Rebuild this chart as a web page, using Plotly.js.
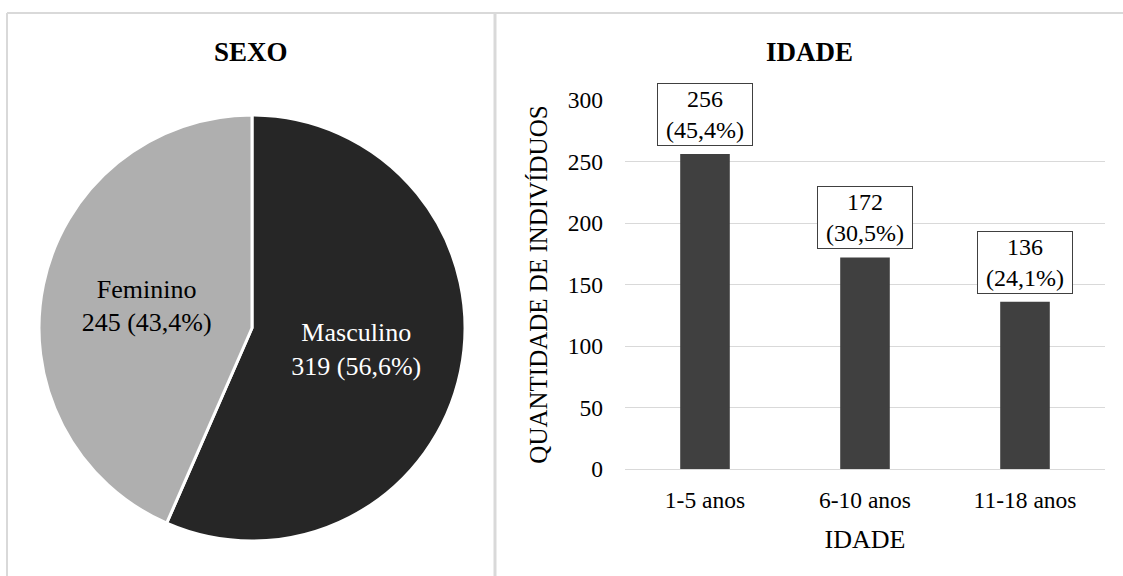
<!DOCTYPE html>
<html>
<head>
<meta charset="utf-8">
<script src="https://cdn.plot.ly/plotly-3.0.1.min.js"></script>
<style>
  html, body { margin: 0; padding: 0; background: #ffffff; }
  #chart { width: 1123px; height: 576px; }
</style>
</head>
<body>
<div id="chart"></div>
<script>
// Sex distribution (pie)
const sexLabels = ["Masculino", "Feminino"];
const sexValues = [319, 245];
const sexColors = ["#262626", "#afafaf"];
const sexTextColors = ["#ffffff", "#000000"];

// Age groups (bars)
const ageGroups = ["1-5 anos", "6-10 anos", "11-18 anos"];
const ageCounts = [256, 172, 136];

const yTicks = [0, 50, 100, 150, 200, 250, 300];

const FONT = "Liberation Serif, Times New Roman, serif";
const W = 1123, H = 576;

const ageTotal = ageCounts.reduce((a, b) => a + b, 0);
const fmtPct = v => (v / ageTotal * 100).toFixed(1).replace(".", ",") + "%";

const pieTrace = {
  type: "pie",
  labels: sexLabels,
  values: sexValues,
  sort: false,
  direction: "clockwise",
  rotation: 0,
  marker: { colors: sexColors, line: { color: "#ffffff", width: 3 } },
  textinfo: "text",
  texttemplate: "%{label}<br>%{value} (%{percent:.1%})",
  textposition: "inside",
  insidetextorientation: "horizontal",
  insidetextfont: { family: FONT, size: 26, color: sexTextColors },
  hoverinfo: "none",
  showlegend: false,
  domain: { x: [39 / W, 465 / W], y: [1 - 541 / H, 1 - 115 / H] }
};

const barTrace = {
  type: "bar",
  x: ageGroups,
  y: ageCounts,
  width: 0.31,
  marker: { color: "#404040" },
  hoverinfo: "none",
  showlegend: false,
  xaxis: "x",
  yaxis: "y"
};

// Boxed value labels above each bar
const barLabels = ageGroups.map((g, i) => ({
  x: g,
  y: ageCounts[i],
  xref: "x",
  yref: "y",
  text: ageCounts[i] + "<br>(" + fmtPct(ageCounts[i]) + ")",
  showarrow: false,
  yanchor: "bottom",
  yshift: 8,
  width: 90,
  borderpad: 2,
  bordercolor: "#404040",
  borderwidth: 1,
  bgcolor: "#ffffff",
  font: { family: FONT, size: 24, color: "#000000" }
}));

const border = "#d9d9d9";
const tickFont = { family: FONT, size: 23.5, color: "#000000" };
const axisTitleFont = { family: FONT, size: 25, color: "#000000" };

const layout = {
  width: W,
  height: H,
  margin: { l: 0, r: 0, t: 0, b: 0 },
  paper_bgcolor: "#ffffff",
  plot_bgcolor: "rgba(0,0,0,0)",
  separators: ",.",
  font: { family: FONT, size: 22, color: "#000000" },
  xaxis: {
    domain: [625 / W, 1105 / W],
    showline: false,
    ticks: "",
    ticklabelstandoff: 14,
    tickfont: tickFont,
    title: { text: "IDADE", font: { family: FONT, size: 26, color: "#000000" }, standoff: 18 },
    automargin: false,
    fixedrange: true
  },
  yaxis: {
    domain: [1 - 469 / H, 1 - 100 / H],
    range: [0, 300],
    tickvals: yTicks,
    ticks: "",
    showline: false,
    showgrid: true,
    gridcolor: border,
    gridwidth: 1,
    zeroline: true,
    zerolinecolor: border,
    zerolinewidth: 1,
    ticklabelstandoff: 21,
    tickfont: tickFont,
    title: { text: "QUANTIDADE DE INDIVÍDUOS", font: axisTitleFont, standoff: 13 },
    automargin: false,
    fixedrange: true
  },
  annotations: [
    {
      text: "<b>SEXO</b>", xref: "paper", yref: "paper",
      x: 251 / W, y: 1 - 52 / H, xanchor: "center", yanchor: "middle",
      showarrow: false, font: { family: FONT, size: 27, color: "#000000" }
    },
    {
      text: "<b>IDADE</b>", xref: "paper", yref: "paper",
      x: 809 / W, y: 1 - 52 / H, xanchor: "center", yanchor: "middle",
      showarrow: false, font: { family: FONT, size: 27, color: "#000000" }
    }
  ].concat(barLabels),
  shapes: [
    // panel frames
    { type: "line", xref: "paper", yref: "paper", x0: 7 / W, x1: 1, y0: 1 - 13 / H, y1: 1 - 13 / H, line: { color: border, width: 2 } },
    { type: "line", xref: "paper", yref: "paper", x0: 7 / W, x1: 7 / W, y0: 0, y1: 1 - 13 / H, line: { color: border, width: 2 } },
    { type: "line", xref: "paper", yref: "paper", x0: 495 / W, x1: 495 / W, y0: 0, y1: 1 - 13 / H, line: { color: border, width: 3 } }
  ]
};

Plotly.newPlot("chart", [pieTrace, barTrace], layout, { staticPlot: true, displayModeBar: false });
</script>
</body>
</html>
